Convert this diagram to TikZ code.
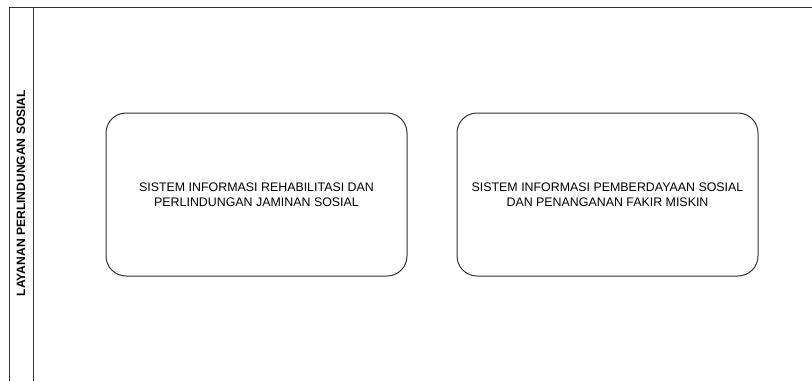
\documentclass[tikz,border=0pt]{standalone}
\usepackage{fontspec}
\setmainfont{Liberation Sans}
\usetikzlibrary{positioning}

\begin{document}
\begin{tikzpicture}[x=1pt,y=-1pt,
  sistem/.style={draw=black!80,line width=1pt,rounded corners=20pt,
    minimum width=301pt,minimum height=163pt,align=center,
    font=\fontsize{12.4}{15}\selectfont},
  lane/.style={draw=black!80,line width=1pt}]
  \useasboundingbox (0,0) rectangle (812,381);
  % lane frame
  \coordinate (topL) at (9,7);
  \coordinate (topR) at (812,7);
  \coordinate (botL) at (9,381);
  \coordinate (divT) at (33,7);
  \coordinate (divB) at (33,381);
  \draw[lane] (botL) -- (topL) -- (topR);
  \draw[lane] (divT) -- (divB);
  \node[rotate=90,font=\bfseries\fontsize{12.1}{14}\selectfont] (judul) at (21,193)
    {LAYANAN PERLINDUNGAN SOSIAL};
  % systems
  \node[sistem] (rehab) at (256.5,194.5)
    {SISTEM INFORMASI REHABILITASI DAN\\PERLINDUNGAN JAMINAN SOSIAL};
  \node[sistem,right=49pt of rehab] (fakir)
    {SISTEM INFORMASI PEMBERDAYAAN SOSIAL\\DAN PENANGANAN FAKIR MISKIN};
\end{tikzpicture}
\end{document}
